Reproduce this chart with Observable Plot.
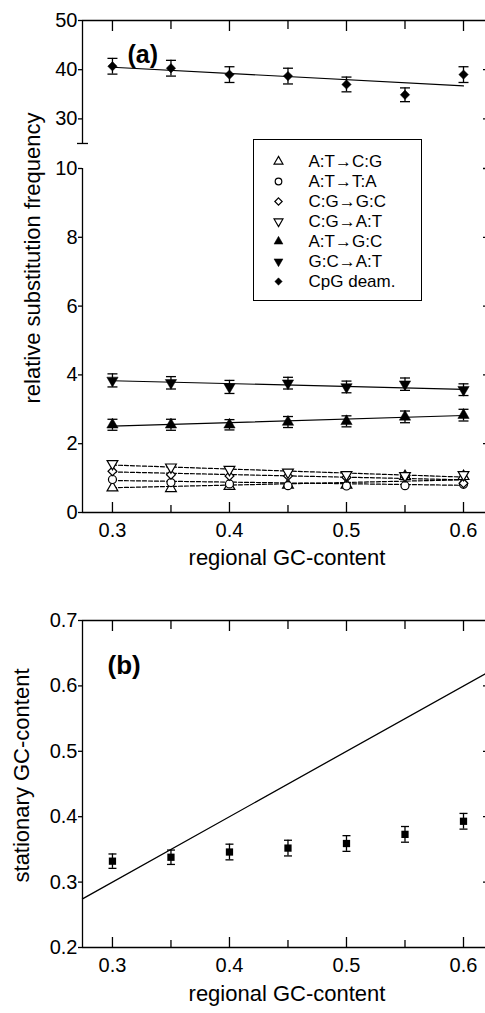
<!DOCTYPE html>
<html><head><meta charset="utf-8">
<script src="https://cdn.jsdelivr.net/npm/d3@7"></script>
<script src="https://cdn.jsdelivr.net/npm/@observablehq/plot@0.6"></script>
<style>
body{margin:0;background:#fff;}
#wrap{position:relative;width:485px;height:1013px;overflow:hidden;background:#fff;}
#legend{position:absolute;left:253px;top:139px;width:167px;height:160px;border:1.3px solid #000;background:#fff;}
svg{display:block}
</style></head><body>
<div id="wrap"><div id="a"></div><div id="b"></div><div id="legend"></div></div>
<script>
const FONT = '"Liberation Sans", Arial, Helvetica, sans-serif';

// ---------- data ----------
const gc = [0.30, 0.35, 0.40, 0.45, 0.50, 0.55, 0.60];
const fitX = [0.30, 0.60];
const seriesNames = ["A:T\u2192C:G", "A:T\u2192T:A", "C:G\u2192G:C", "C:G\u2192A:T", "A:T\u2192G:C", "G:C\u2192A:T", "CpG deam."];

const atToCG = [0.72, 0.70, 0.76, 0.80, 0.80, 1.05, 1.05];
const atToTA = [0.96, 0.87, 0.83, 0.78, 0.77, 0.78, 0.82];
const cgToGC = [1.20, 1.10, 1.06, 1.06, 1.02, 1.05, 0.85];
const cgToAT = [1.42, 1.32, 1.25, 1.17, 1.10, 1.07, 1.10];
const atToGC = [2.55, 2.55, 2.55, 2.63, 2.65, 2.78, 2.83];
const gcToAT = [3.84, 3.77, 3.65, 3.76, 3.65, 3.73, 3.57];
const cpgDeam = [40.7, 40.3, 39.0, 38.7, 37.0, 34.9, 39.0];

const errAtToGC = [0.16, 0.16, 0.15, 0.16, 0.16, 0.17, 0.17];
const errGcToAT = [0.19, 0.18, 0.19, 0.17, 0.17, 0.18, 0.17];
const errCpG = [1.6, 1.6, 1.6, 1.6, 1.5, 1.4, 1.6];

// fitted lines (value at 0.30, value at 0.60)
const fitAtToCG = [0.72, 0.95];
const fitAtToTA = [0.93, 0.79];
const fitCgToGC = [1.18, 0.95];
const fitCgToAT = [1.38, 1.03];
const fitAtToGC = [2.51, 2.82];
const fitGcToAT = [3.83, 3.58];
const fitCpG = [40.5, 36.7];

const stationaryGC = [0.332, 0.338, 0.346, 0.352, 0.359, 0.373, 0.393];
const errStationary = [0.011, 0.011, 0.012, 0.012, 0.012, 0.012, 0.012];

const xDomain = [0.2744, 0.6188];
const xTicksMajor = [0.3, 0.4, 0.5, 0.6];
const xTicksMinor = [0.35, 0.45, 0.55];
const yTicksA = [0, 2, 4, 6, 8, 10, 30, 40, 50];
const yTicksARight = [2, 4, 6, 8, 10, 30, 40];
const yBreak = [25];
const yTicksB = [0.2, 0.3, 0.4, 0.5, 0.6, 0.7];
const yTicksBRight = [0.3, 0.4, 0.5, 0.6];

// ---------- broken y axis for panel (a): 0–10 below, 25–50 compressed above ----------
const LOWER_TOP = 10, UPPER_BOTTOM = 25, UPPER_TOP = 50;
const GAP = 0.727, UPPER_K = 0.143;
const brk = v => v <= LOWER_TOP ? v : LOWER_TOP + GAP + (v - UPPER_BOTTOM) * UPPER_K;
const unbrk = t => t <= LOWER_TOP ? t : UPPER_BOTTOM + (t - LOWER_TOP - GAP) / UPPER_K;

// ---------- symbols ----------
const sqrt3 = Math.sqrt(3);
const triangleDown = {draw(ctx, size) {
  const y = -Math.sqrt(size / (sqrt3 * 3));
  ctx.moveTo(0, -y * 2); ctx.lineTo(-sqrt3 * y, y); ctx.lineTo(sqrt3 * y, y); ctx.closePath();
}};
const capOf = w => ({draw(ctx) { ctx.moveTo(-w / 2, 0); ctx.lineTo(w / 2, 0); }});

const seriesA = [
  {values: atToCG, fit: fitAtToCG, err: null, symbol: "triangle", fill: "white", dashed: true},
  {values: atToTA, fit: fitAtToTA, err: null, symbol: "circle", fill: "white", dashed: true},
  {values: cgToGC, fit: fitCgToGC, err: null, symbol: "diamond2", fill: "white", dashed: true},
  {values: cgToAT, fit: fitCgToAT, err: null, symbol: triangleDown, fill: "white", dashed: true},
  {values: atToGC, fit: fitAtToGC, err: errAtToGC, symbol: "triangle", fill: "black", dashed: false},
  {values: gcToAT, fit: fitGcToAT, err: errGcToAT, symbol: triangleDown, fill: "black", dashed: false},
  {values: cpgDeam, fit: fitCpG, err: errCpG, symbol: "diamond2", fill: "black", dashed: false}
];

const rows = (vals, errs) => gc.map((x, i) => ({
  x, y: vals[i], lo: errs ? vals[i] - errs[i] : vals[i], hi: errs ? vals[i] + errs[i] : vals[i]
}));

const SW = 1.3;
const fmt1 = d3.format(".1f");

function frameAxes(yTicksLeft, yTicksRight, yFormat) {
  return [
    Plot.axisX({anchor: "bottom", ticks: xTicksMajor, tickSize: 10, dy: -10, fill: "none", label: null, strokeWidth: SW}),
    Plot.axisX({anchor: "bottom", ticks: xTicksMinor, tickSize: 7, dy: -7, fill: "none", label: null, strokeWidth: SW}),
    Plot.axisX({anchor: "top", ticks: xTicksMajor, tickSize: 10, dy: 10, fill: "none", label: null, strokeWidth: SW}),
    Plot.axisX({anchor: "top", ticks: xTicksMinor, tickSize: 8, dy: 8, fill: "none", label: null, strokeWidth: SW}),
    Plot.axisX({anchor: "bottom", ticks: xTicksMajor, tickSize: 0, tickPadding: 10, tickFormat: fmt1, label: null, fontSize: 20}),
    Plot.axisY({anchor: "left", ticks: yTicksLeft, tickSize: 4, tickPadding: 1, tickFormat: yFormat, label: null, fontSize: 20, strokeWidth: SW}),
    Plot.axisY({anchor: "right", ticks: yTicksRight, tickSize: 3, dx: -3, fill: "none", label: null, strokeWidth: SW})
  ];
}

// ---------- panel (a) ----------
const marksA = [];
for (const s of seriesA) {
  marksA.push(Plot.line(fitX.map((x, i) => ({x, y: s.fit[i]})), {
    x: "x", y: d => brk(d.y), stroke: "black", strokeWidth: 1.2, strokeDasharray: s.dashed ? "4,2" : null
  }));
}
for (const s of seriesA) {
  if (!s.err) continue;
  const r = rows(s.values, s.err);
  marksA.push(Plot.ruleX(r, {x: "x", y1: d => brk(d.lo), y2: d => brk(d.hi), stroke: "black", strokeWidth: SW}));
  marksA.push(Plot.dot(r, {x: "x", y: d => brk(d.lo), symbol: capOf(10), fill: "none", stroke: "black", strokeWidth: SW}));
  marksA.push(Plot.dot(r, {x: "x", y: d => brk(d.hi), symbol: capOf(10), fill: "none", stroke: "black", strokeWidth: SW}));
}
for (const s of seriesA) {
  marksA.push(Plot.dot(rows(s.values, null), {
    x: "x", y: d => brk(d.y), symbol: s.symbol, r: s.fill === "white" ? 4 : 4.2,
    fill: s.fill, stroke: "black", strokeWidth: s.fill === "white" ? 1.2 : 0.5
  }));
}

const plotA = Plot.plot({
  width: 485, height: 590,
  marginLeft: 82, marginRight: 0, marginTop: 20, marginBottom: 78,
  x: {domain: xDomain},
  y: {domain: [brk(0), brk(UPPER_TOP)]},
  style: {fontFamily: FONT, fontSize: "20px", color: "black", background: "white", overflow: "visible"},
  marks: [
    Plot.ruleY([brk(0)], {stroke: "black", strokeWidth: SW}),
    Plot.ruleY([brk(UPPER_TOP)], {stroke: "black", strokeWidth: SW}),
    Plot.ruleX([xDomain[0]], {y1: brk(0), y2: brk(LOWER_TOP), stroke: "black", strokeWidth: SW}),
    Plot.ruleX([xDomain[0]], {y1: brk(UPPER_BOTTOM), y2: brk(UPPER_TOP), stroke: "black", strokeWidth: SW}),
    Plot.axisY({anchor: "left", ticks: yBreak.map(brk), tickSize: 11, dx: 6, fill: "none", label: null, strokeWidth: SW}),
    ...frameAxes(yTicksA.map(brk), yTicksARight.map(brk), t => d3.format("d")(Math.round(unbrk(t)))),
    ...marksA,
    Plot.text(["(a)"], {text: d => d, frameAnchor: "top-left", dx: 45, dy: 34, lineAnchor: "middle", textAnchor: "start", fontWeight: "bold", fontSize: 25}),
    Plot.text(["regional GC-content"], {text: d => d, frameAnchor: "bottom", dx: 3, dy: 52, fontSize: 22}),
    Plot.text(["relative substitution frequency"], {text: d => d, frameAnchor: "left", rotate: -90, dx: -50, dy: -8.5, textAnchor: "middle", lineAnchor: "middle", fontSize: 22})
  ]
});
document.getElementById("a").appendChild(plotA);

// ---------- legend ----------
const legendMarks = [];
seriesA.forEach((s, i) => {
  legendMarks.push(Plot.dot([seriesNames[i]], {
    y: d => d, frameAnchor: "left", dx: 24, symbol: s.symbol, r: 3.3,
    fill: s.fill, stroke: "black", strokeWidth: s.fill === "white" ? 1.2 : 0.5
  }));
});
legendMarks.push(Plot.text(seriesNames, {y: d => d, text: d => d, frameAnchor: "left", dx: 54, textAnchor: "start", fontSize: 17}));
const legend = Plot.plot({
  width: 167, height: 160, margin: 0,
  y: {type: "point", domain: seriesNames, range: [20, 141], padding: 0, axis: null},
  style: {fontFamily: FONT, fontSize: "17px", color: "black", background: "white", overflow: "visible"},
  marks: legendMarks
});
document.getElementById("legend").appendChild(legend);

// ---------- panel (b) ----------
const rowsB = gc.map((x, i) => ({x, y: stationaryGC[i], lo: stationaryGC[i] - errStationary[i], hi: stationaryGC[i] + errStationary[i]}));
const plotB = Plot.plot({
  width: 485, height: 423,
  marginLeft: 82, marginRight: 0, marginTop: 30, marginBottom: 66,
  x: {domain: xDomain},
  y: {domain: [0.2, 0.7]},
  style: {fontFamily: FONT, fontSize: "20px", color: "black", background: "white", overflow: "visible"},
  marks: [
    Plot.ruleY([0.2], {stroke: "black", strokeWidth: SW}),
    Plot.ruleY([0.7], {stroke: "black", strokeWidth: SW}),
    Plot.ruleX([xDomain[0]], {stroke: "black", strokeWidth: SW}),
    ...frameAxes(yTicksB, yTicksBRight, fmt1),
    Plot.line(xDomain, {x: d => d, y: d => d, stroke: "black", strokeWidth: SW}),
    Plot.ruleX(rowsB, {x: "x", y1: "lo", y2: "hi", stroke: "black", strokeWidth: SW}),
    Plot.dot(rowsB, {x: "x", y: "lo", symbol: capOf(8), fill: "none", stroke: "black", strokeWidth: SW}),
    Plot.dot(rowsB, {x: "x", y: "hi", symbol: capOf(8), fill: "none", stroke: "black", strokeWidth: SW}),
    Plot.dot(rowsB, {x: "x", y: "y", symbol: "square", r: 4.1, fill: "black", stroke: "none"}),
    Plot.text(["(b)"], {text: d => d, frameAnchor: "top-left", dx: 25, dy: 45, lineAnchor: "middle", textAnchor: "start", fontWeight: "bold", fontSize: 26}),
    Plot.text(["regional GC-content"], {text: d => d, frameAnchor: "bottom", dx: 3, dy: 53, fontSize: 22}),
    Plot.text(["stationary GC-content"], {text: d => d, frameAnchor: "left", rotate: -90, dx: -61, dy: -8.5, textAnchor: "middle", lineAnchor: "middle", fontSize: 22})
  ]
});
document.getElementById("b").appendChild(plotB);
</script>
</body></html>
